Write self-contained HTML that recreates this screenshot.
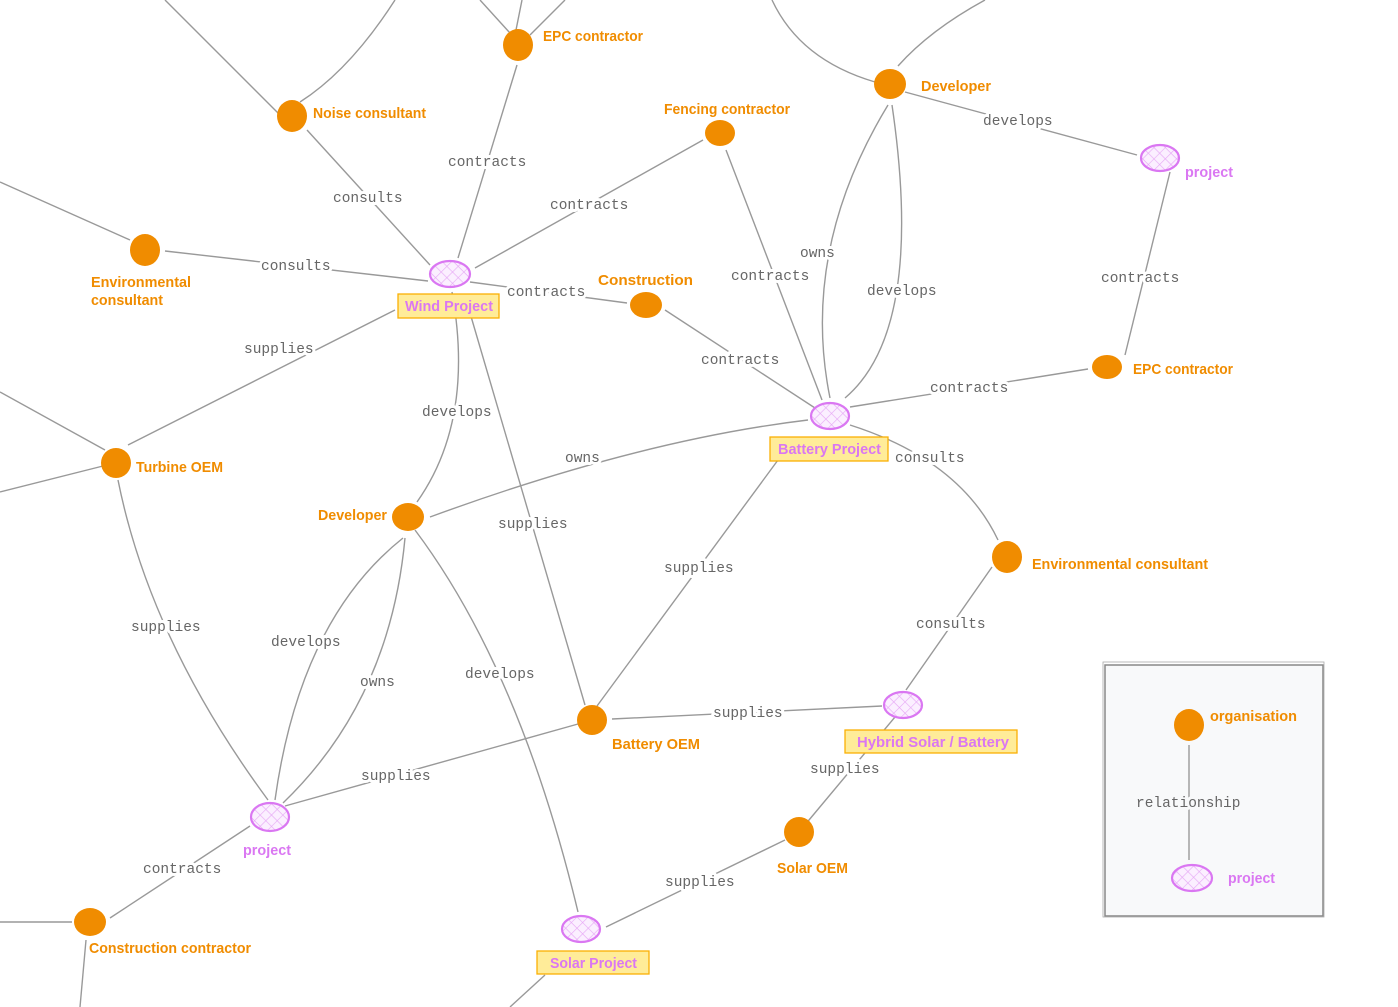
<!DOCTYPE html>
<html><head><meta charset="utf-8"><style>
html,body{margin:0;padding:0;background:#fff;}
svg{display:block;}
.e{fill:none;stroke:#999;stroke-width:1.4;}
.l{font-family:"Liberation Mono",monospace;font-size:14.5px;fill:#666;stroke:#fff;stroke-width:6px;paint-order:stroke;stroke-linejoin:round;}
.o{font-family:"Liberation Sans",sans-serif;font-weight:bold;font-size:15px;fill:#f08c00;}
.p{font-family:"Liberation Sans",sans-serif;font-weight:bold;font-size:15px;fill:#da77f2;}
.n{fill:#f08c00;}
.pe{fill:url(#h);stroke:#da77f2;stroke-width:2.2;}
.b{fill:#ffec99;stroke:#fab005;stroke-width:1.3;}
</style></head><body>
<svg width="1398" height="1007" viewBox="0 0 1398 1007" xmlns="http://www.w3.org/2000/svg">
<defs>
<pattern id="h" width="8" height="8" patternUnits="userSpaceOnUse" patternTransform="rotate(45)">
<rect width="8" height="8" fill="#fbefff"/>
<path d="M0 0H8M0 0V8" stroke="#e6a6f5" stroke-width="1.2"/>
</pattern>
</defs>
<path class="e" d="M165 0 L278 113"/>
<path class="e" d="M395 0 Q350 70 300 102"/>
<path class="e" d="M480 0 L510 33"/>
<path class="e" d="M522 0 L516 30"/>
<path class="e" d="M565 0 L530 35"/>
<path class="e" d="M0 182 L130 240"/>
<path class="e" d="M0 392 L105 450"/>
<path class="e" d="M0 492 L103 466"/>
<path class="e" d="M772 0 Q800 60 875 82"/>
<path class="e" d="M985 0 Q930 30 898 66"/>
<path class="e" d="M0 922 L72 922"/>
<path class="e" d="M80 1007 L86 940"/>
<path class="e" d="M510 1007 L545 975"/>
<path class="e" d="M307 130 L430 265"/>
<path class="e" d="M517 65 L458 258"/>
<path class="e" d="M703 140 L475 268"/>
<path class="e" d="M165 251 L428 281"/>
<path class="e" d="M470 282 L627 303"/>
<path class="e" d="M665 310 L815 408"/>
<path class="e" d="M726 150 L822 400"/>
<path class="e" d="M888 105 Q800 250 830 398"/>
<path class="e" d="M892 105 Q925 330 845 398"/>
<path class="e" d="M905 92 L1137 155"/>
<path class="e" d="M1170 172 L1125 355"/>
<path class="e" d="M1088 369 L850 407"/>
<path class="e" d="M850 425 Q960 460 998 540"/>
<path class="e" d="M992 567 L906 690"/>
<path class="e" d="M395 310 L128 445"/>
<path class="e" d="M452 292 Q475 420 417 502"/>
<path class="e" d="M470 313 L585 705"/>
<path class="e" d="M808 420 Q640 440 430 517"/>
<path class="e" d="M778 460 L597 706"/>
<path class="e" d="M118 480 Q150 640 268 800"/>
<path class="e" d="M403 538 Q300 620 275 800"/>
<path class="e" d="M405 538 Q390 700 283 803"/>
<path class="e" d="M415 530 Q520 670 578 912"/>
<path class="e" d="M612 719 L882 706"/>
<path class="e" d="M578 724 L285 806"/>
<path class="e" d="M895 717 L799 832"/>
<path class="e" d="M785 840 L606 927"/>
<path class="e" d="M250 826 L110 918"/>
<text class="l" x="333" y="202">consults</text>
<text class="l" x="448" y="166">contracts</text>
<text class="l" x="550" y="209">contracts</text>
<text class="l" x="261" y="270">consults</text>
<text class="l" x="507" y="296">contracts</text>
<text class="l" x="701" y="364">contracts</text>
<text class="l" x="731" y="280">contracts</text>
<text class="l" x="800" y="257">owns</text>
<text class="l" x="867" y="295">develops</text>
<text class="l" x="983" y="125">develops</text>
<text class="l" x="1101" y="282">contracts</text>
<text class="l" x="930" y="392">contracts</text>
<text class="l" x="895" y="462">consults</text>
<text class="l" x="916" y="628">consults</text>
<text class="l" x="244" y="353">supplies</text>
<text class="l" x="422" y="416">develops</text>
<text class="l" x="498" y="528">supplies</text>
<text class="l" x="565" y="462">owns</text>
<text class="l" x="664" y="572">supplies</text>
<text class="l" x="131" y="631">supplies</text>
<text class="l" x="271" y="646">develops</text>
<text class="l" x="360" y="686">owns</text>
<text class="l" x="465" y="678">develops</text>
<text class="l" x="713" y="717">supplies</text>
<text class="l" x="361" y="780">supplies</text>
<text class="l" x="810" y="773">supplies</text>
<text class="l" x="665" y="886">supplies</text>
<text class="l" x="143" y="873">contracts</text>
<ellipse class="n" cx="518" cy="45" rx="15" ry="16"/><text class="o" x="543" y="41" textLength="100" lengthAdjust="spacingAndGlyphs">EPC contractor</text>
<ellipse class="n" cx="292" cy="116" rx="15" ry="16"/><text class="o" x="313" y="118" textLength="113" lengthAdjust="spacingAndGlyphs">Noise consultant</text>
<ellipse class="n" cx="145" cy="250" rx="15" ry="16"/><text class="o" x="91" y="287" textLength="100" lengthAdjust="spacingAndGlyphs">Environmental</text><text class="o" x="91" y="305" textLength="72" lengthAdjust="spacingAndGlyphs">consultant</text>
<ellipse class="n" cx="720" cy="133" rx="15" ry="13"/><text class="o" x="664" y="114" textLength="126" lengthAdjust="spacingAndGlyphs">Fencing contractor</text>
<ellipse class="n" cx="646" cy="305" rx="16" ry="13"/><text class="o" x="598" y="285" textLength="95" lengthAdjust="spacingAndGlyphs">Construction</text>
<ellipse class="n" cx="890" cy="84" rx="16" ry="15"/><text class="o" x="921" y="91" textLength="70" lengthAdjust="spacingAndGlyphs">Developer</text>
<ellipse class="n" cx="1107" cy="367" rx="15" ry="12"/><text class="o" x="1133" y="374" textLength="100" lengthAdjust="spacingAndGlyphs">EPC contractor</text>
<ellipse class="n" cx="116" cy="463" rx="15" ry="15"/><text class="o" x="136" y="472" textLength="87" lengthAdjust="spacingAndGlyphs">Turbine OEM</text>
<ellipse class="n" cx="408" cy="517" rx="16" ry="14"/><text class="o" x="318" y="520" textLength="69" lengthAdjust="spacingAndGlyphs">Developer</text>
<ellipse class="n" cx="1007" cy="557" rx="15" ry="16"/><text class="o" x="1032" y="569" textLength="176" lengthAdjust="spacingAndGlyphs">Environmental consultant</text>
<ellipse class="n" cx="592" cy="720" rx="15" ry="15"/><text class="o" x="612" y="749" textLength="88" lengthAdjust="spacingAndGlyphs">Battery OEM</text>
<ellipse class="n" cx="799" cy="832" rx="15" ry="15"/><text class="o" x="777" y="873" textLength="71" lengthAdjust="spacingAndGlyphs">Solar OEM</text>
<ellipse class="n" cx="90" cy="922" rx="16" ry="14"/><text class="o" x="89" y="953" textLength="162" lengthAdjust="spacingAndGlyphs">Construction contractor</text>
<ellipse class="pe" cx="450" cy="274" rx="20" ry="13"/>
<rect class="b" x="398" y="294" width="101" height="24"/><text class="p" x="405" y="311" textLength="88" lengthAdjust="spacingAndGlyphs">Wind Project</text>
<ellipse class="pe" cx="1160" cy="158" rx="19" ry="13"/><text class="p" x="1185" y="177" textLength="48" lengthAdjust="spacingAndGlyphs">project</text>
<ellipse class="pe" cx="830" cy="416" rx="19" ry="13"/>
<rect class="b" x="770" y="437" width="118" height="24"/><text class="p" x="778" y="454" textLength="103" lengthAdjust="spacingAndGlyphs">Battery Project</text>
<ellipse class="pe" cx="903" cy="705" rx="19" ry="13"/>
<rect class="b" x="845" y="730" width="172" height="23"/><text class="p" x="857" y="747" textLength="152" lengthAdjust="spacingAndGlyphs">Hybrid Solar / Battery</text>
<ellipse class="pe" cx="270" cy="817" rx="19" ry="14"/><text class="p" x="243" y="855" textLength="48" lengthAdjust="spacingAndGlyphs">project</text>
<ellipse class="pe" cx="581" cy="929" rx="19" ry="13"/>
<rect class="b" x="537" y="951" width="112" height="23"/><text class="p" x="550" y="968" textLength="87" lengthAdjust="spacingAndGlyphs">Solar Project</text>
<rect x="1105" y="665" width="218" height="251" fill="#f8f9fa" stroke="#888" stroke-width="1.5"/>
<rect x="1103" y="662" width="221" height="255" fill="none" stroke="#aaa" stroke-width="0.8"/>
<path class="e" d="M1189 745 L1189 860"/>
<text class="l" x="1136" y="807" style="stroke:#f8f9fa">relationship</text>
<ellipse class="n" cx="1189" cy="725" rx="15" ry="16"/><text class="o" x="1210" y="721" textLength="87" lengthAdjust="spacingAndGlyphs">organisation</text>
<ellipse class="pe" cx="1192" cy="878" rx="20" ry="13"/><text class="p" x="1228" y="883" textLength="47" lengthAdjust="spacingAndGlyphs">project</text>
</svg>
</body></html>
